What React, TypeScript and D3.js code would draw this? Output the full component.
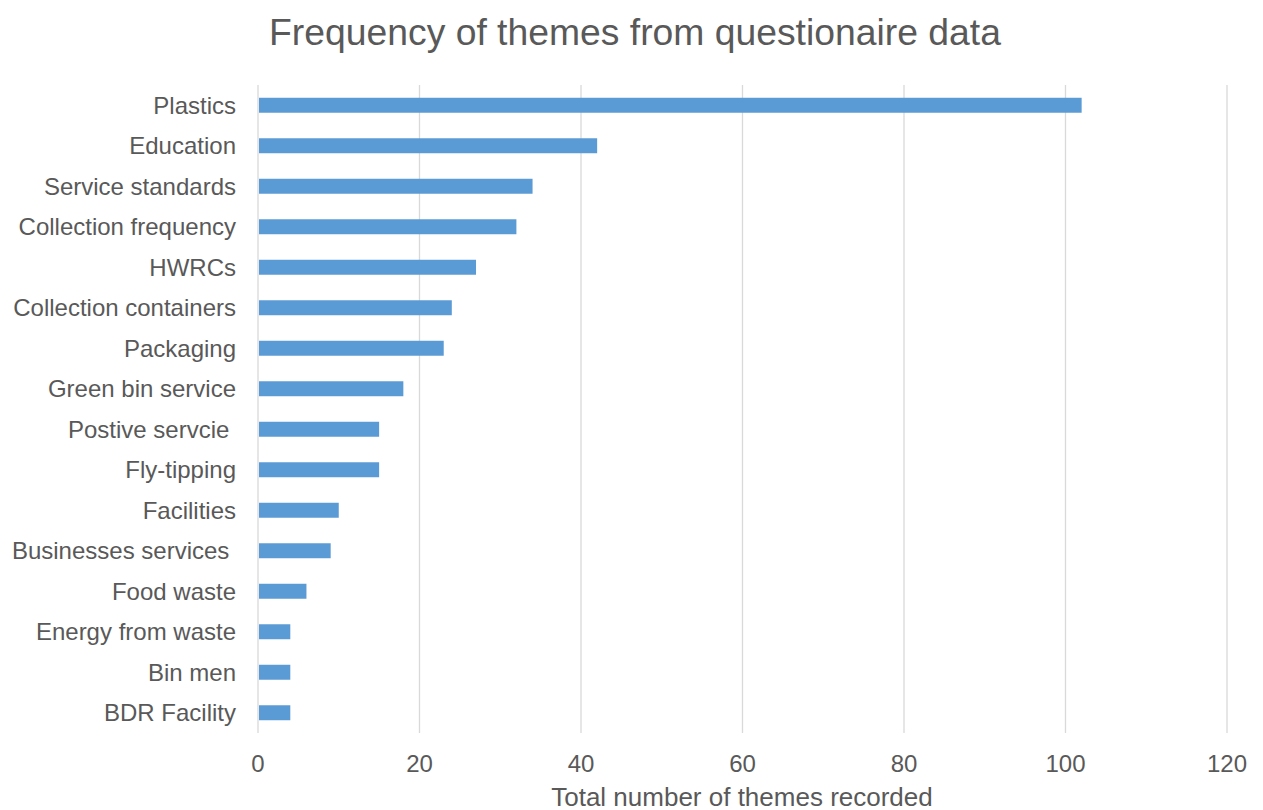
import React, { useRef, useEffect } from "react";
import * as d3 from "d3";

// themes, top to bottom
const themes = [
  "Plastics",
  "Education",
  "Service standards",
  "Collection frequency",
  "HWRCs",
  "Collection containers",
  "Packaging",
  "Green bin service",
  "Postive servcie ",
  "Fly-tipping",
  "Facilities",
  "Businesses services ",
  "Food waste",
  "Energy from waste",
  "Bin men",
  "BDR Facility",
];
const counts = [102, 42, 34, 32, 27, 24, 23, 18, 15, 15, 10, 9, 6, 4, 4, 4];
const xTicks = [0, 20, 40, 60, 80, 100, 120];

const App = () => {
  const ref = useRef<SVGSVGElement>(null);
  const width = 1263;
  const height = 810;

  useEffect(() => {
    const svg = d3.select(ref.current);
    svg.selectAll("*").remove();
    const font = "'Liberation Sans', Arial, sans-serif";
    const textColor = "#595959";

    const x = d3.scaleLinear().domain([0, 120]).range([258, 1227]);
    const y = d3.scaleBand().domain(themes).range([85, 733]).paddingInner(0.63).paddingOuter(0.315);

    // grid
    svg
      .selectAll("line.grid")
      .data(xTicks)
      .enter()
      .append("line")
      .attr("x1", (d) => x(d))
      .attr("x2", (d) => x(d))
      .attr("y1", 85)
      .attr("y2", 733)
      .attr("stroke", "#d9d9d9")
      .attr("stroke-width", 1.3);

    // bars
    svg
      .selectAll("rect")
      .data(counts)
      .enter()
      .append("rect")
      .attr("x", x(0) + 1)
      .attr("y", (d, i) => y(themes[i])!)
      .attr("width", (d) => x(d) - x(0) - 1)
      .attr("height", y.bandwidth())
      .attr("fill", "#5b9bd5");

    // category labels
    svg
      .selectAll("text.cat")
      .data(themes)
      .enter()
      .append("text")
      .attr("x", 236)
      .attr("y", (d) => y(d)! + y.bandwidth() / 2)
      .attr("dy", "0.36em")
      .attr("text-anchor", "end")
      .attr("font-family", font)
      .attr("font-size", 24)
      .attr("fill", textColor)
      .style("white-space", "pre")
      .text((d) => d);

    // tick labels
    svg
      .selectAll("text.tick")
      .data(xTicks)
      .enter()
      .append("text")
      .attr("x", (d) => x(d))
      .attr("y", 772)
      .attr("text-anchor", "middle")
      .attr("font-family", font)
      .attr("font-size", 24)
      .attr("fill", textColor)
      .text((d) => d);

    // axis title
    svg
      .append("text")
      .attr("x", 742)
      .attr("y", 806)
      .attr("text-anchor", "middle")
      .attr("font-family", font)
      .attr("font-size", 26)
      .attr("fill", textColor)
      .text("Total number of themes recorded");

    // title
    svg
      .append("text")
      .attr("x", 635)
      .attr("y", 45)
      .attr("text-anchor", "middle")
      .attr("font-family", font)
      .attr("font-size", 37.3)
      .attr("fill", textColor)
      .text("Frequency of themes from questionaire data");
  }, []);

  return (
    <svg
      ref={ref}
      width={width}
      height={height}
      style={{ position: "absolute", left: 0, top: 0, background: "#fff" }}
    ></svg>
  );
};

export default App;
